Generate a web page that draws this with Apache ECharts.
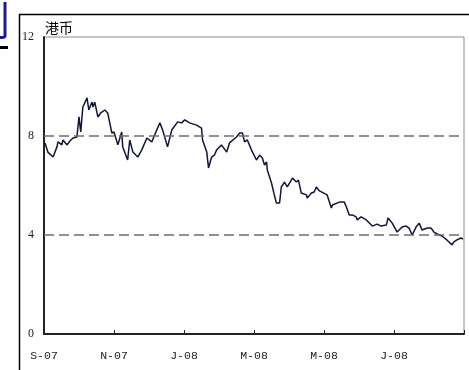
<!DOCTYPE html>
<html>
<head>
<meta charset="utf-8">
<script src="https://cdn.jsdelivr.net/npm/echarts@6/dist/echarts.min.js"></script>
<style>
  html, body { margin: 0; padding: 0; background: #fff; }
  #main { width: 469px; height: 370px; }
</style>
</head>
<body>
<div id="main"></div>
<script>
// months since start of Sep 2007
var monthOffset = [
  0.03, 0.11, 0.26, 0.37, 0.40, 0.51, 0.54, 0.66, 0.74, 0.83, 0.94, 1.00, 1.05, 1.11, 1.23, 1.28,
  1.37, 1.40, 1.45, 1.54, 1.62, 1.74, 1.82, 1.94, 2.00, 2.11, 2.22, 2.25, 2.39, 2.45, 2.54, 2.68,
  2.79, 2.94, 3.08, 3.16, 3.31, 3.39, 3.53, 3.65, 3.82, 3.93, 4.02, 4.16, 4.36, 4.50, 4.53, 4.65,
  4.70, 4.79, 4.87, 4.93, 5.07, 5.22, 5.30, 5.50, 5.59, 5.67, 5.73, 5.81, 5.93, 6.07, 6.16, 6.24,
  6.30, 6.36, 6.38, 6.50, 6.58, 6.64, 6.73, 6.78, 6.87, 6.95, 7.10, 7.21, 7.27, 7.35, 7.50, 7.52,
  7.64, 7.72, 7.78, 7.87, 8.09, 8.21, 8.24, 8.44, 8.58, 8.64, 8.72, 8.81, 8.92, 8.95, 9.06, 9.21,
  9.38, 9.52, 9.63, 9.78, 9.83, 9.95, 10.09, 10.23, 10.35, 10.43, 10.52, 10.63, 10.72, 10.80, 10.95, 11.06,
  11.14, 11.29, 11.37, 11.51, 11.66, 11.71, 11.80, 11.91, 11.97
];
var price = [
  7.72, 7.35, 7.15, 7.56, 7.76, 7.64, 7.84, 7.64, 7.80, 7.92, 7.96, 8.77, 8.16, 9.17, 9.54, 9.05,
  9.37, 9.17, 9.37, 8.77, 8.93, 9.05, 8.93, 8.12, 8.16, 7.64, 8.16, 7.56, 7.03, 7.84, 7.35, 7.15,
  7.43, 7.92, 7.76, 8.04, 8.53, 8.24, 7.56, 8.24, 8.57, 8.53, 8.65, 8.53, 8.44, 8.32, 7.84, 7.35,
  6.71, 7.15, 7.23, 7.43, 7.64, 7.35, 7.72, 7.96, 8.12, 8.12, 7.76, 7.84, 7.43, 7.03, 7.23, 7.11,
  6.83, 6.95, 6.63, 6.10, 5.62, 5.29, 5.29, 5.94, 6.14, 5.94, 6.30, 6.14, 6.22, 5.70, 5.62, 5.49,
  5.70, 5.74, 5.94, 5.78, 5.62, 5.09, 5.21, 5.33, 5.33, 5.13, 4.81, 4.81, 4.73, 4.61, 4.73, 4.61,
  4.36, 4.44, 4.36, 4.40, 4.69, 4.48, 4.12, 4.32, 4.36, 4.28, 4.00, 4.32, 4.48, 4.20, 4.28, 4.28,
  4.12, 4.00, 3.96, 3.80, 3.60, 3.72, 3.80, 3.88, 3.84
];
var xLabels = ['S-07', 'N-07', 'J-08', 'M-08', 'M-08', 'J-08', ''];
var refLines = [4, 8];
var unitName = '港币';

var chartDom = document.getElementById('main');
var myChart = echarts.init(chartDom);
var option;

var seriesData = monthOffset.map(function (m, i) { return [m, price[i]]; });

option = {
  animation: false,
  backgroundColor: '#fff',
  grid: {
    left: 44,
    right: 5,
    top: 37,
    bottom: 36,
    show: true,
    borderColor: '#8a8a8a',
    borderWidth: 1
  },
  graphic: [
    {
      // outer frame
      type: 'polyline',
      shape: { points: [[19.5, 370], [19.5, 14.5], [469, 14.5]] },
      style: { stroke: '#000', lineWidth: 1.5, fill: null }
    },
    {
      type: 'text',
      left: 45,
      top: 21,
      style: { text: unitName, font: '14px "Noto Sans CJK SC"', fill: '#000' }
    },
    {
      // cut-off heading character from the slide
      type: 'text',
      left: -30,
      top: 0,
      style: { text: '利', font: '40px "Noto Sans CJK SC"', fill: '#1b1b8a' }
    },
    {
      type: 'rect',
      shape: { x: 0, y: 46, width: 8, height: 3 },
      style: { fill: '#000' }
    }
  ],
  xAxis: {
    type: 'value',
    min: 0,
    max: 12,
    interval: 2,
    axisLine: { show: true, lineStyle: { color: '#222', width: 2 } },
    axisTick: { show: true, inside: true, length: 4, lineStyle: { color: '#222' } },
    splitLine: { show: false },
    axisLabel: {
      margin: 16,
      color: '#222',
      fontFamily: 'Liberation Mono',
      fontSize: 11.5,
      formatter: function (v) { return xLabels[Math.round(v / 2)]; }
    }
  },
  yAxis: {
    type: 'value',
    min: 0,
    max: 12,
    interval: 4,
    axisLine: { show: true, lineStyle: { color: '#222', width: 2 } },
    axisTick: { show: false },
    splitLine: { show: false },
    axisLabel: {
      margin: 10,
      color: '#222',
      fontFamily: 'Liberation Serif',
      fontSize: 12
    }
  },
  series: [
    {
      type: 'line',
      data: seriesData,
      showSymbol: false,
      lineStyle: { color: '#141436', width: 1.5 },
      markLine: {
        silent: true,
        symbol: 'none',
        label: { show: false },
        lineStyle: { color: '#6e6e6e', type: [10, 5], width: 1.5 },
        data: refLines.map(function (v) { return { yAxis: v }; })
      }
    }
  ]
};

option && myChart.setOption(option);
</script>
</body>
</html>
